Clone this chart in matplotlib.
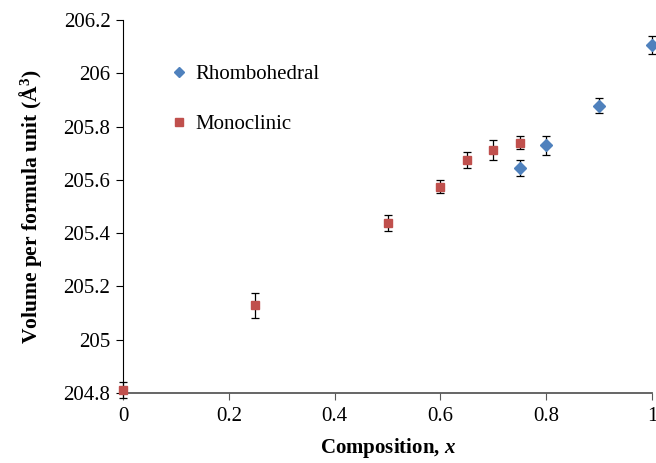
import matplotlib
matplotlib.use('Agg')
import matplotlib.pyplot as plt
from matplotlib.ticker import FuncFormatter, MultipleLocator

# Data
rhombo_x = [0.75, 0.8, 0.9, 1.0]
rhombo_v = [205.645, 205.73, 205.878, 206.106]
rhombo_err = [0.029, 0.036, 0.028, 0.034]

mono_x = [0.0, 0.25, 0.5, 0.6, 0.65, 0.7, 0.75]
mono_v = [204.81, 205.13, 205.437, 205.575, 205.675, 205.712, 205.74]
mono_err = [0.03, 0.047, 0.03, 0.026, 0.03, 0.039, 0.024]

plt.rcParams['font.family'] = ['Liberation Serif', 'DejaVu Serif']
plt.rcParams['mathtext.fontset'] = 'custom'
plt.rcParams['mathtext.rm'] = 'Liberation Serif'
plt.rcParams['mathtext.it'] = 'Liberation Serif:italic'
plt.rcParams['mathtext.bf'] = 'Liberation Serif:bold'
plt.rcParams['mathtext.bfit'] = 'Liberation Serif:italic:bold'

blue = '#4F81BD'
red = '#C0504D'

fig = plt.figure(figsize=(6.56, 4.63), dpi=100)
ax = fig.add_axes([0.1875, 0.151, 0.8065, 0.806])

# error bars first, markers on top
ax.errorbar(rhombo_x, rhombo_v, yerr=rhombo_err, fmt='none', ecolor='black',
            elinewidth=0.9, capsize=3, capthick=0.9, clip_on=False, zorder=2)
ax.errorbar(mono_x, mono_v, yerr=mono_err, fmt='none', ecolor='black',
            elinewidth=0.9, capsize=3, capthick=0.9, clip_on=False, zorder=2)
ax.plot(rhombo_x, rhombo_v, 'D', color=blue, markersize=6.5, linestyle='none',
        label='Rhombohedral', clip_on=False, zorder=3)
ax.plot(mono_x, mono_v, 's', color=red, markersize=6, linestyle='none',
        label='Monoclinic', clip_on=False, zorder=3)

ax.set_xlim(0, 1)
ax.set_ylim(204.8, 206.2)
ax.xaxis.set_major_locator(MultipleLocator(0.2))
ax.yaxis.set_major_locator(MultipleLocator(0.2))
ax.xaxis.set_major_formatter(FuncFormatter(lambda v, p: '%g' % round(v, 3)))
ax.yaxis.set_major_formatter(FuncFormatter(lambda v, p: '%g' % round(v, 3)))

ax.spines['top'].set_visible(False)
ax.spines['right'].set_visible(False)
ax.spines['left'].set_color('black')
ax.spines['bottom'].set_color('#595959')
ax.spines['bottom'].set_linewidth(1.3)
ax.tick_params(axis='both', direction='out', labelsize=15, length=5)
ax.tick_params(axis='x', color='#595959', pad=5)
ax.tick_params(axis='y', color='black', pad=4)

ax.set_xlabel(r'Composition, $\mathbfit{x}$', fontsize=15, fontweight='bold', labelpad=7)
ax.set_ylabel('Volume per formula unit (Å$^{\\mathbf{3}}$)', fontsize=15.5,
              fontweight='bold', labelpad=14)

ax.legend(loc='upper left', bbox_to_anchor=(0.25, 0.878), bbox_transform=fig.transFigure,
          frameon=False, fontsize=15, handlelength=0.6, handletextpad=0.5,
          labelspacing=1.45, borderaxespad=0, markerscale=0.85)

fig.savefig('out.png', dpi=100)
